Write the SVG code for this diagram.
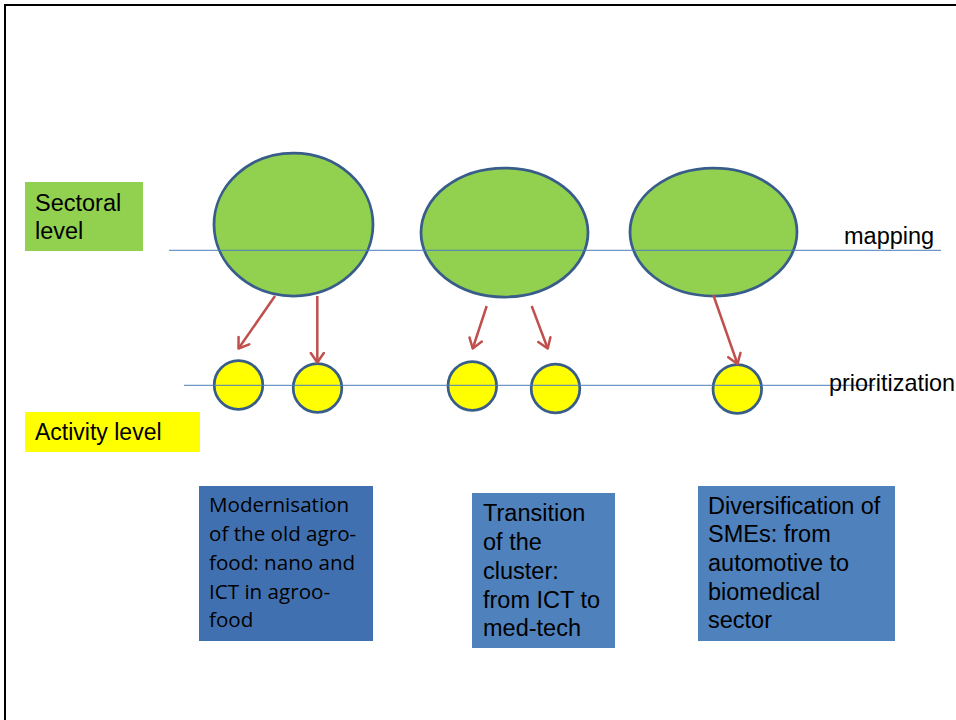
<svg xmlns="http://www.w3.org/2000/svg" width="956" height="720" viewBox="0 0 956 720">
<style>
.big{fill:#92D050;stroke:#385D8A;stroke-width:2.75}
.small{fill:#FFFF00;stroke:#385D8A;stroke-width:2.75}
.guide{stroke:#4A7EBB;stroke-width:1}
.arr{stroke:#C0504D;stroke-width:2.5;fill:none;marker-end:url(#ah)}
.t{font-family:"Liberation Sans",Arial,sans-serif;fill:#000}
.c{font-family:"Open Sans","Noto Sans",sans-serif;fill:#000}
</style>
<defs>
<marker id="ah" markerUnits="userSpaceOnUse" markerWidth="14" markerHeight="16" refX="11" refY="8" orient="auto" viewBox="0 0 14 16">
<path d="M1.5,1.5 L11,8 L1.5,14.5" fill="none" stroke="#C0504D" stroke-width="2.5" stroke-linecap="round" stroke-linejoin="round"/>
</marker>
</defs>
<rect width="956" height="720" fill="#fff"/>
<g id="frame" fill="none" stroke="#000" stroke-width="2"><path d="M956,5 H5 V720"/></g>
<g id="sectoral-label"><rect x="25" y="182" width="118" height="69" fill="#92D050"/><text class="t" x="35" y="211" font-size="23.5">Sectoral</text><text class="t" x="35" y="239" font-size="23.5">level</text></g>
<g id="activity-label"><rect x="25" y="412" width="175" height="40" fill="#FFFF00"/><text class="t" x="35" y="440" font-size="23">Activity level</text></g>
<g id="sector1"><ellipse class="big" cx="293.5" cy="224.5" rx="79.5" ry="71.5"/></g>
<g id="sector2"><ellipse class="big" cx="504.5" cy="232.5" rx="83.5" ry="64.5"/></g>
<g id="sector3"><ellipse class="big" cx="713.5" cy="232" rx="83.5" ry="64"/></g>
<g id="act1"><circle class="small" cx="238.5" cy="385" r="24.3"/></g>
<g id="act2"><circle class="small" cx="317.5" cy="388" r="24.3"/></g>
<g id="act3"><circle class="small" cx="472.3" cy="386" r="24.3"/></g>
<g id="act4"><circle class="small" cx="555.5" cy="388.5" r="24.3"/></g>
<g id="act5"><circle class="small" cx="737.3" cy="389" r="24.3"/></g>
<g id="lines">
<line class="guide" x1="169" y1="250.3" x2="941" y2="250.3"/>
<line class="guide" x1="184" y1="385.3" x2="875" y2="385.3"/>
</g>
<g id="mapping-label"><text class="t" x="844" y="244" font-size="23.5">mapping</text></g>
<g id="prioritization-label"><text class="t" x="829" y="391" font-size="23.4">prioritization</text></g>
<g id="connectors">
<line class="arr" x1="275" y1="296" x2="238.5" y2="348.5"/>
<line class="arr" x1="317.3" y1="296" x2="317.3" y2="362.5"/>
<line class="arr" x1="486.7" y1="306" x2="472.7" y2="348.5"/>
<line class="arr" x1="531.7" y1="306" x2="547.7" y2="348.5"/>
<line class="arr" x1="713.3" y1="295" x2="737.5" y2="364"/>
</g>
<g id="box1"><rect x="199" y="486" width="174" height="155" fill="#4170B0"/>
<text class="c" font-size="20.6"><tspan x="209" y="512">Modernisation</tspan><tspan x="209" y="541">of the old agro-</tspan><tspan x="209" y="569.5">food: nano and</tspan><tspan x="209" y="598.5">ICT in agroo-</tspan><tspan x="209" y="627">food</tspan></text></g>
<g id="box2"><rect x="472" y="493" width="143" height="155" fill="#4F81BD"/>
<text class="t" font-size="23.5"><tspan x="483" y="521">Transition</tspan><tspan x="483" y="549.5">of the</tspan><tspan x="483" y="578.5">cluster:</tspan><tspan x="483" y="607.5">from ICT to</tspan><tspan x="483" y="636">med-tech</tspan></text></g>
<g id="box3"><rect x="698" y="486" width="197" height="155" fill="#4F81BD"/>
<text class="t" font-size="23.5"><tspan x="708" y="513.5">Diversification of</tspan><tspan x="708" y="542">SMEs: from</tspan><tspan x="708" y="571">automotive to</tspan><tspan x="708" y="599.5">biomedical</tspan><tspan x="708" y="628">sector</tspan></text></g>
</svg>
